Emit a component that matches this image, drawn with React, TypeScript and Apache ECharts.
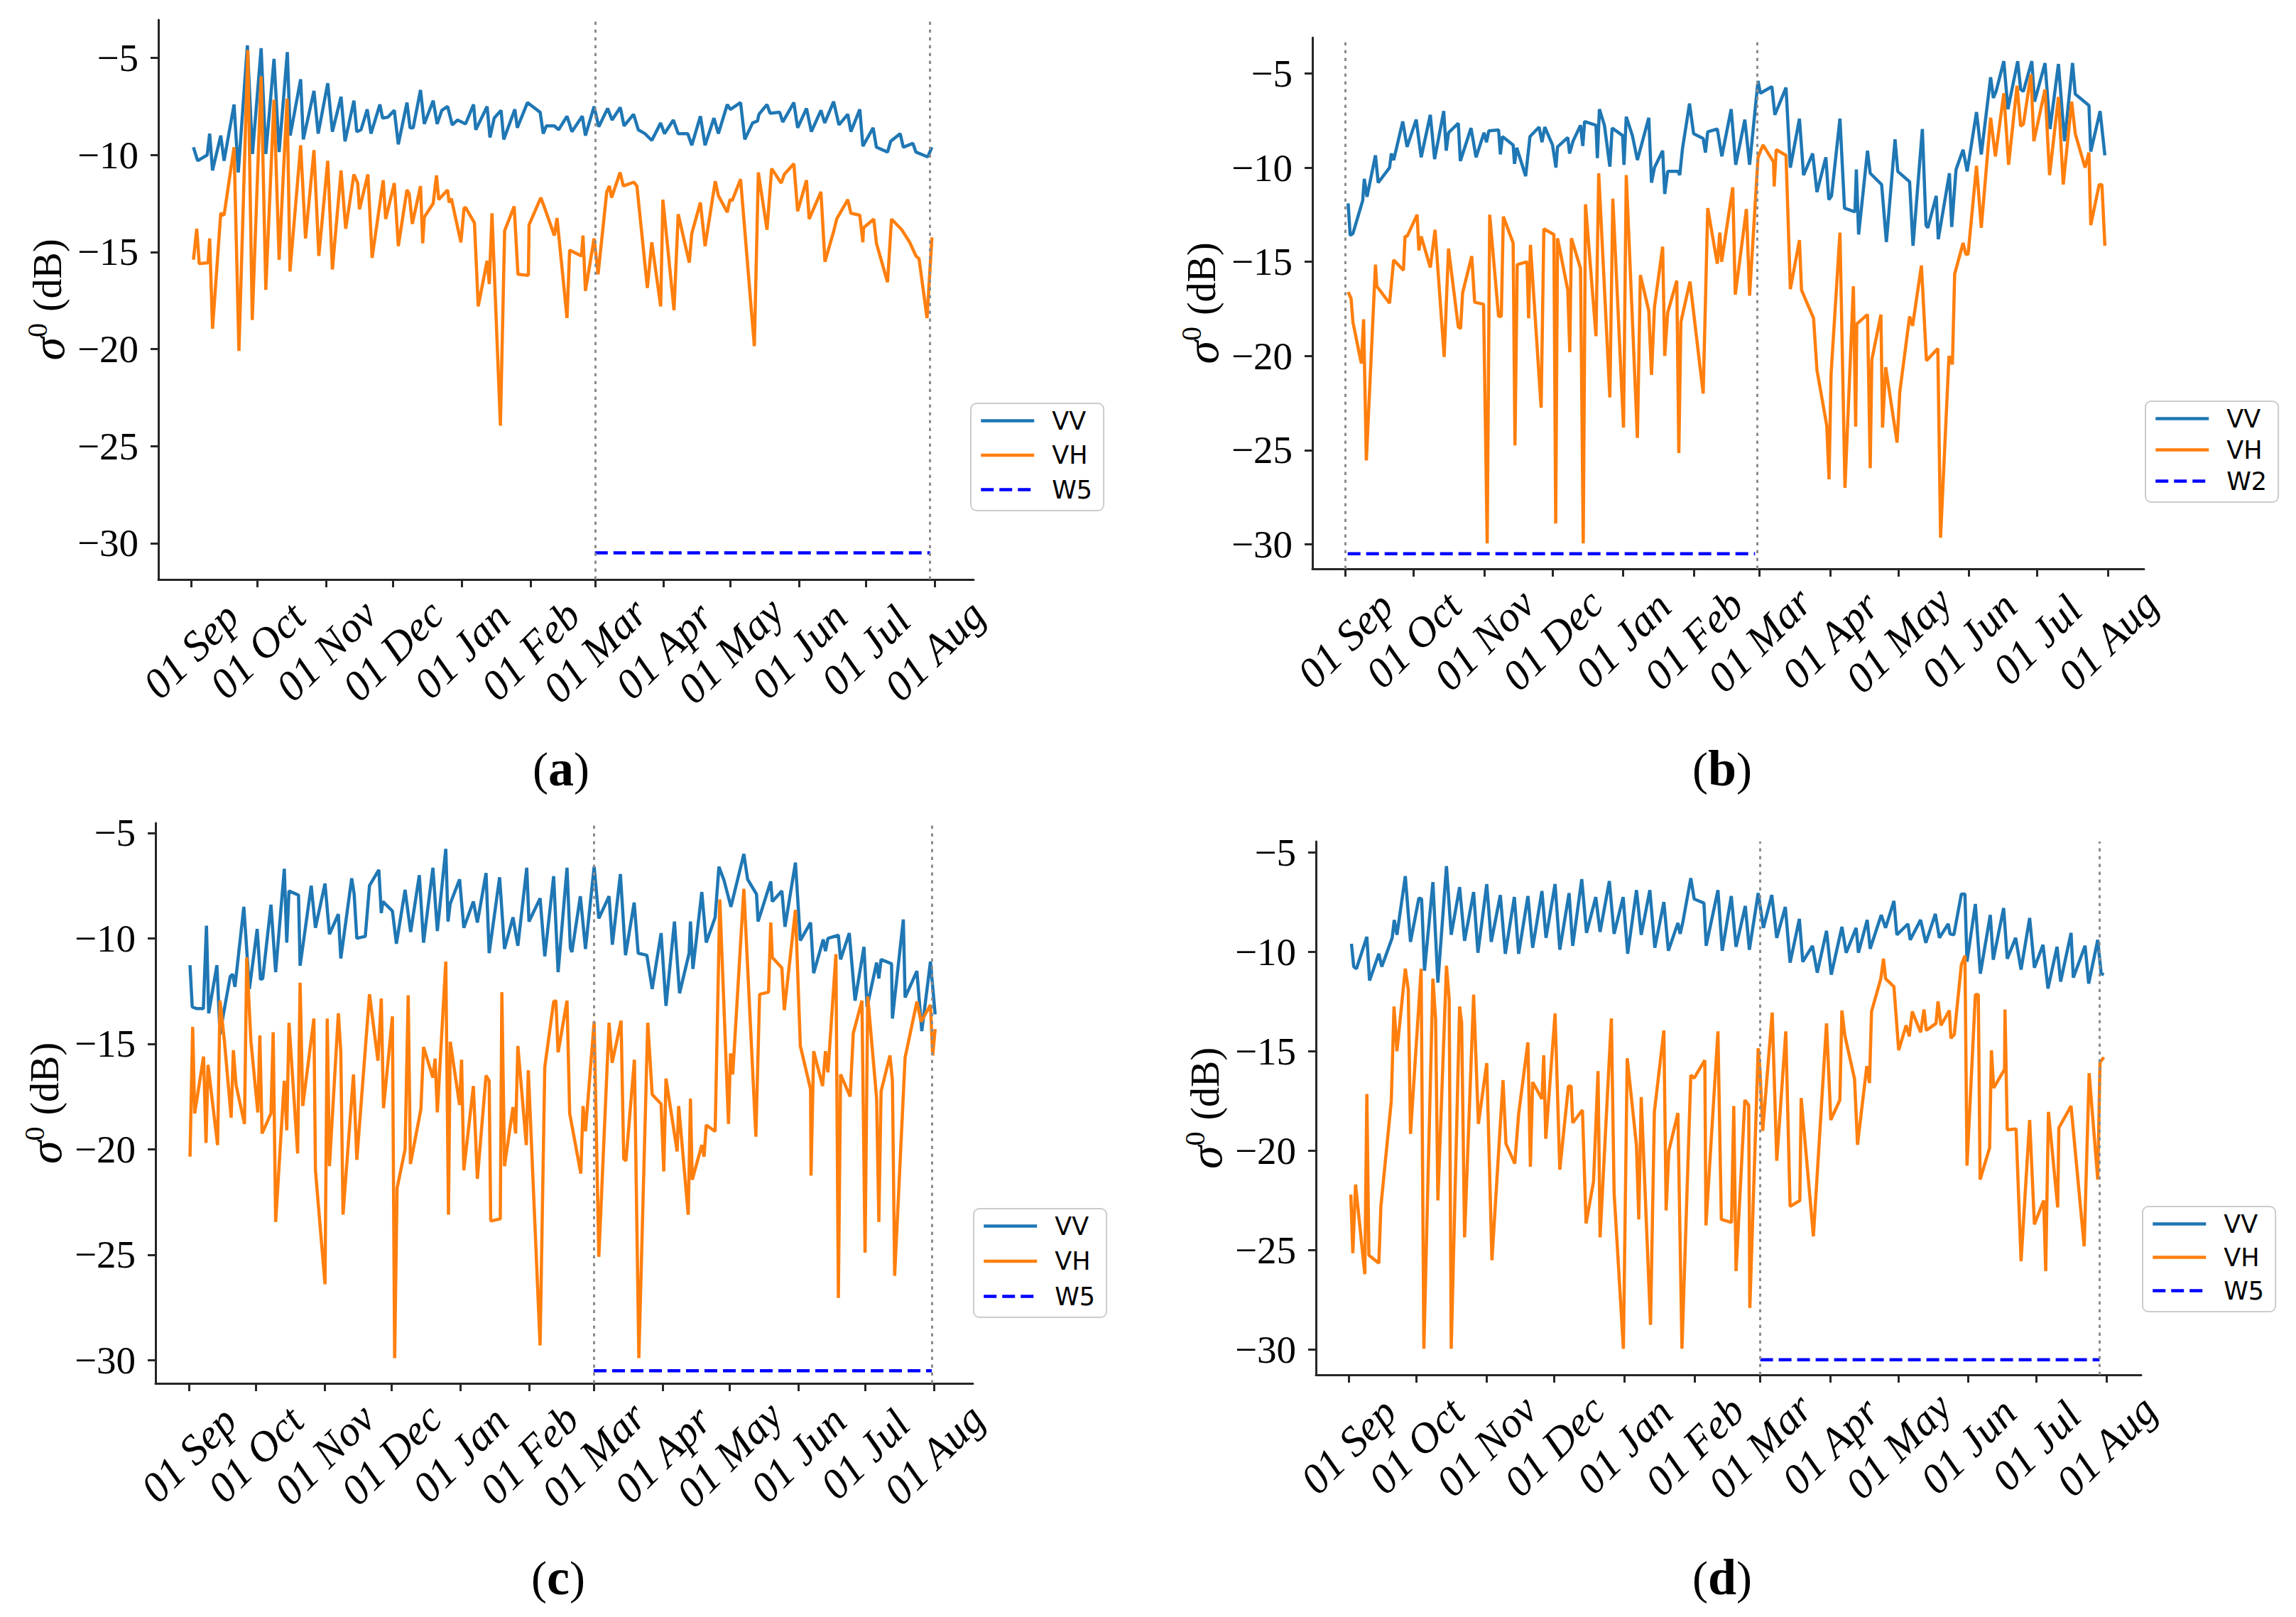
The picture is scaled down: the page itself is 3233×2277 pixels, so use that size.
import { useEffect, useRef } from 'react';
import * as echarts from 'echarts';

// [days since 01 Sep 2019, dB]
const VV_A = [
  [1.1, -9.6], [3, -10.3], [7.3, -10.0], [8.4, -8.9], [9.7, -10.8], [13.4, -9.0], [14.9, -10.3], [19.4, -7.4], [21.3, -10.9], [25.4, -4.35],
  [27.7, -9.95], [31.6, -4.5], [33.7, -9.95], [37.4, -5.05], [39.7, -9.85], [43.4, -4.7], [44.7, -9.0], [49.4, -6.1], [50.6, -9.2], [55.4, -6.7],
  [57.3, -8.9], [61.6, -6.3], [63.7, -8.8], [67.6, -7.0], [69.4, -9.3], [73.4, -7.2], [74.7, -8.8], [76.6, -8.7], [79.4, -7.65], [81.1, -8.9],
  [85.1, -7.4], [86.3, -8.1], [88.7, -8.05], [91.6, -7.7], [93.4, -9.45], [97.3, -7.3], [98.7, -8.6], [100.1, -8.6], [103.4, -6.65], [105.1, -8.4],
  [109.1, -7.2], [110.9, -8.4], [113, -7.7], [115.6, -7.5], [117.7, -8.45], [120.1, -8.2], [123.7, -8.4], [127.3, -7.4], [128.3, -8.7], [133.4, -7.5],
  [134.7, -9.1], [136.6, -8.1], [139.7, -7.7], [140.9, -9.2], [145.9, -7.65], [147, -8.6], [151.6, -7.3], [157.3, -7.8], [158.7, -8.9], [160.1, -8.5],
  [163.7, -8.5], [165.6, -8.7], [169.4, -8.0], [171.6, -8.8], [176.3, -8.0], [177.7, -9.0], [181.6, -7.5], [183.7, -8.55], [187.7, -7.6], [189.7, -8.2],
  [193.4, -7.55], [195.1, -8.5], [199.4, -7.9], [201.5, -8.7], [204.5, -8.9], [207.6, -9.25], [211.6, -8.35], [213.3, -8.9], [217.3, -8.2], [219.5, -8.9],
  [223.8, -8.9], [225.6, -9.5], [229.5, -8.0], [231.6, -9.5], [235.6, -8.1], [237.6, -8.9], [241.6, -7.4], [243, -7.65], [247.6, -7.3], [249.5, -9.2],
  [253, -8.35], [255.2, -8.25], [255.9, -7.9], [259.5, -7.4], [260.9, -7.85], [265.2, -7.8], [266.6, -8.3], [271.6, -7.3], [273.3, -8.6], [277.3, -7.6],
  [279.5, -8.8], [283.8, -7.7], [285.5, -8.35], [289.5, -7.25], [291.9, -8.45], [295.9, -7.9], [297.3, -8.8], [301.3, -7.65], [302.7, -9.55], [307.3, -8.6],
  [308.8, -9.6], [313.8, -9.85], [315.2, -9.3], [319.5, -8.9], [320.9, -9.6], [325.2, -9.4], [326.6, -9.85], [331.9, -10.1], [333.8, -9.6],
];
const VH_A = [
  [1.1, -15.4], [2.6, -13.8], [3.7, -15.6], [7.7, -15.55], [8.4, -14.3], [9.7, -18.95], [13.4, -13.0], [14.9, -13.1], [19.4, -9.6], [21.6, -20.1],
  [25.6, -4.6], [27.6, -18.5], [31.6, -5.95], [33.7, -16.95], [37.4, -7.15], [39.7, -15.4], [43.3, -7.1], [44.6, -16.0], [49.4, -9.5], [51.6, -14.3],
  [55.4, -9.75], [57.6, -15.2], [61.6, -10.3], [63.7, -15.9], [67.6, -10.8], [69.7, -13.8], [73.4, -11.0], [75.1, -11.45], [75.9, -12.8], [79.7, -11.0],
  [81.6, -15.3], [86.6, -11.3], [87.7, -13.3], [91.6, -11.45], [93.4, -14.7], [97.3, -11.8], [98.3, -12.0], [99.7, -13.55], [103.4, -11.6], [104.4, -14.55],
  [105.1, -13.2], [109.1, -12.5], [110.6, -11.05], [111.6, -12.3], [115.6, -11.8], [116.3, -12.45], [117.3, -12.25], [121.6, -14.5], [123, -12.75], [123.7, -12.7],
  [127.7, -13.5], [129.4, -17.8], [133.4, -15.45], [134.4, -16.65], [135.6, -13.0], [139.4, -23.95], [141.3, -13.9], [145.6, -12.65], [147.3, -16.15], [152, -16.2],
  [152.3, -13.6], [157.6, -12.2], [159.4, -12.75], [163.7, -14.15], [164.9, -13.25], [169.4, -18.4], [170.6, -14.9], [175.9, -15.2], [176.6, -14.15], [177.7, -17.0],
  [181.6, -14.3], [183.4, -16.15], [187.3, -11.9], [188.5, -11.6], [189.5, -12.2], [193.3, -10.9], [194.8, -11.6], [199.5, -11.4], [200.9, -11.6], [205.6, -16.85],
  [207.6, -14.5], [211.6, -17.8], [212.6, -12.3], [217.6, -18.0], [219.5, -13.05], [224.5, -15.55], [225.6, -14.05], [229.5, -12.45], [231.6, -14.7], [236.2, -11.35],
  [237.6, -12.1], [241.6, -12.95], [242.8, -12.3], [243.8, -12.35], [247.6, -11.25], [253.8, -19.85], [255.6, -10.9], [259.5, -13.85], [261.6, -10.7], [265.9, -11.45],
  [267.3, -11.0], [271.6, -10.45], [273.3, -12.9], [277.3, -11.3], [278.5, -13.3], [283.8, -11.9], [285.6, -15.5], [289.5, -13.95], [290.9, -13.3], [295.9, -12.3],
  [297.3, -13.0], [301.3, -13.1], [302.7, -14.5], [303, -13.75], [307.6, -13.3], [308.8, -14.55], [313.8, -16.55], [315.6, -13.3], [320.2, -13.85], [323.8, -14.5],
  [326.6, -15.2], [328, -15.35], [331.6, -18.4], [333.8, -14.25],
];
const VV_B = [
  [1.2, -11.9], [2.1, -13.6], [3.3, -13.5], [7.6, -11.75], [8.3, -10.6], [9.5, -11.55], [13.2, -9.35], [14.4, -10.8], [19.4, -10.0], [20.2, -9.25],
  [21.2, -9.6], [25.2, -7.55], [27.1, -8.9], [31.1, -7.45], [33.3, -9.45], [37.3, -7.2], [39.2, -9.55], [43.2, -7.0], [44.3, -9.1], [45.3, -8.15],
  [49.6, -7.65], [50.5, -9.65], [55.2, -7.9], [57.4, -9.45], [60.9, -8.15], [62, -8.65], [63, -8.05], [67.3, -8.0], [68.1, -9.3], [69, -8.35],
  [73.7, -8.8], [74.3, -9.8], [75.3, -8.95], [79.2, -10.45], [81.1, -8.35], [85.1, -7.85], [86.4, -8.65], [87.6, -7.85], [91, -8.8], [92.5, -10.0],
  [93.2, -8.9], [97.7, -8.4], [98.5, -9.25], [100, -8.6], [103.3, -7.75], [104.3, -8.85], [105.1, -7.55], [110.1, -7.75], [110.7, -9.5], [111.6, -6.9],
  [113.8, -7.75], [116.2, -9.95], [117.2, -7.9], [121.8, -8.3], [122.4, -9.85], [123.4, -7.3], [126.1, -8.3], [128.3, -9.6], [133.3, -7.35], [134.5, -10.8],
  [135.8, -10.0], [139.4, -9.1], [140.3, -11.4], [141.6, -10.2], [146.1, -10.2], [146.9, -10.4], [148.1, -9.0], [151.2, -6.6], [153, -8.2], [157.2, -8.45],
  [158.2, -9.2], [159.2, -8.1], [163.4, -7.95], [165.4, -9.4], [169.5, -6.9], [171.5, -9.85], [175.5, -7.45], [177.6, -9.85], [181.3, -5.4], [182.3, -6.05],
  [187.4, -5.7], [188.7, -7.2], [193.6, -5.75], [195.5, -10.0], [199.5, -7.4], [201.3, -10.4], [205.3, -9.25], [207.2, -11.3], [211.1, -9.45], [212.4, -11.7],
  [213.6, -11.5], [217.3, -7.4], [219.3, -12.15], [223.9, -12.35], [224.5, -10.1], [225.5, -13.55], [229.4, -9.1], [230.6, -10.3], [235.6, -10.9], [237.7, -13.95],
  [241.5, -8.5], [242.7, -10.2], [247.9, -10.75], [249.4, -14.15], [253.5, -7.95], [255.1, -13.05], [255.9, -13.2], [259.6, -11.5], [260.5, -13.8], [265.4, -10.3],
  [266.4, -13.15], [268.3, -10.1], [271.4, -9.05], [273.2, -10.2], [277.3, -7.05], [279.4, -9.3], [283.5, -5.2], [284.7, -6.3], [285.9, -5.95], [289.3, -4.35],
  [291.1, -6.9], [295.4, -4.35], [296.7, -5.85], [297.9, -5.95], [301.6, -4.35], [302.8, -6.5], [307.4, -4.45], [309.6, -7.95], [313.3, -4.5], [316, -8.6],
  [319.5, -4.45], [320.7, -6.1], [326.7, -6.7], [327.5, -9.15], [331.6, -7.0], [333.7, -9.35],
];
const VH_B = [
  [1.2, -16.6], [2.5, -16.95], [3.3, -18.2], [7, -20.4], [8, -18.05], [9.2, -25.55], [13.2, -15.15], [13.8, -16.3], [19.4, -17.2], [21.2, -14.9],
  [25.5, -15.45], [26.2, -13.65], [27.1, -13.65], [31.5, -12.5], [32.3, -14.4], [33.3, -13.65], [37.3, -15.3], [39.4, -13.3], [43.4, -20.05], [45.3, -14.3],
  [49.6, -18.45], [50.6, -18.55], [51.5, -16.65], [55.5, -14.7], [56.8, -17.15], [60.7, -17.25], [62.3, -29.95], [63.4, -12.5], [67.3, -17.9], [68.5, -17.9],
  [69.4, -12.6], [73.7, -14.0], [74.5, -24.75], [75.5, -15.15], [79.8, -15.0], [80.5, -18.0], [81.3, -14.1], [86, -22.75], [87.2, -13.25], [91.6, -13.55],
  [92.4, -28.9], [93.2, -13.75], [97.7, -16.5], [98.6, -19.8], [99.3, -13.75], [103.3, -15.35], [104.5, -29.95], [105.5, -11.95], [110.1, -18.95], [111.3, -10.3],
  [116.2, -22.2], [117.5, -11.65], [122.2, -23.8], [123.4, -10.4], [128.3, -24.35], [129.6, -15.7], [133.3, -17.6], [134.5, -21.0], [135.8, -17.4], [139.4, -14.2],
  [140.3, -20.0], [141.6, -17.7], [145.6, -16.0], [146.5, -25.15], [147.4, -18.2], [151.4, -16.05], [157.2, -22.0], [159.2, -12.15], [163.4, -15.1], [164.5, -13.45],
  [165.3, -15.0], [170.2, -11.05], [171.3, -16.75], [176.2, -12.2], [177.6, -16.8], [181.3, -9.45], [183.5, -8.8], [188.1, -9.7], [188.4, -11.0], [189.3, -9.05],
  [193.6, -9.35], [195.5, -16.45], [199.5, -13.85], [200.4, -16.5], [205.7, -18.0], [207.2, -20.75], [211.5, -23.7], [212.5, -26.55], [213.4, -20.95], [217.3, -13.45],
  [219.5, -27.0], [223.2, -16.3], [224.2, -23.75], [224.7, -18.3], [229.4, -17.8], [230.6, -25.95], [231.3, -20.2], [235.3, -17.8], [236, -23.8], [237.4, -20.6],
  [242.4, -24.6], [243.6, -21.9], [247.9, -17.9], [249.2, -18.4], [253.1, -15.2], [255.3, -20.25], [260.3, -19.6], [261.5, -29.65], [265.2, -20.0], [266.7, -20.45],
  [267.7, -15.65], [271.4, -14.0], [272.6, -14.6], [273.6, -14.6], [277.3, -9.9], [279.4, -13.2], [283.5, -7.35], [285.6, -9.4], [289.3, -6.05], [291.4, -9.85],
  [295.1, -5.65], [296.7, -7.8], [297.9, -7.7], [301.2, -5.05], [302.5, -8.6], [307.4, -5.85], [309.4, -10.4], [313.3, -6.25], [315.4, -10.9], [319.1, -6.5],
  [320.7, -8.2], [325, -10.0], [326.7, -9.2], [327.5, -13.05], [331.2, -10.9], [332.4, -10.9], [333.7, -14.15],
];
const VV_C = [
  [0.5, -11.27], [1.5, -13.25], [3.6, -13.33], [6.5, -13.33], [7.9, -9.4], [8.9, -13.55], [12.6, -11.27], [14, -14.55], [15.5, -13.6], [18.6, -11.8],
  [19.7, -11.7], [20.7, -12.3], [24.7, -8.5], [27.2, -12.4], [30.7, -9.55], [32.2, -11.95], [33.2, -11.9], [36.9, -8.4], [39, -11.6], [42.9, -6.7],
  [44, -10.2], [45, -7.75], [49.3, -7.95], [50, -11.3], [55, -7.5], [56.9, -9.5], [61.2, -7.4], [63.2, -9.8], [67.2, -8.85], [68.3, -10.95],
  [73.2, -7.15], [74.3, -7.9], [75.5, -10.0], [79.3, -9.9], [81.2, -7.5], [85.4, -6.75], [86.5, -8.8], [87.2, -8.25], [91.5, -8.7], [93.3, -10.25],
  [97.2, -7.7], [99.7, -9.7], [103.6, -7.0], [105.5, -10.2], [109.7, -6.65], [111.7, -9.65], [115.5, -5.75], [116.5, -9.2], [117.5, -8.35], [121.7, -7.2],
  [123.6, -9.5], [127.9, -8.25], [129.7, -9.25], [133.6, -6.9], [135, -10.7], [139.7, -7.1], [141.9, -10.5], [145.7, -9.0], [147.9, -10.35], [151.9, -6.65],
  [152.9, -9.2], [157.9, -8.1], [160, -10.85], [164, -7.05], [166, -11.6], [170, -6.65], [171.5, -10.45], [172.2, -10.65], [176, -8.0], [178.3, -10.5],
  [182.2, -6.6], [184.3, -9.05], [188.9, -8.0], [190.4, -10.3], [194, -6.95], [196.3, -10.8], [200.2, -8.3], [202, -10.7], [205.9, -10.8], [208.3, -12.4],
  [212.3, -9.75], [214.5, -13.2], [218.3, -9.2], [220.6, -12.6], [224.9, -10.7], [225.5, -9.2], [226.6, -11.45], [230.6, -7.8], [232.6, -10.2], [236.6, -9.0],
  [238.3, -6.6], [240.6, -7.25], [243.7, -8.5], [249.5, -6.0], [251.2, -7.2], [255.2, -7.9], [255.9, -9.2], [261.6, -7.3], [262.3, -8.25], [266.6, -7.75],
  [268, -9.45], [272.7, -6.4], [274.9, -10.1], [279.5, -9.25], [280.9, -11.65], [285.2, -10.05], [286.2, -10.6], [287.3, -10.0], [292, -9.85], [293, -11.0],
  [296.9, -9.75], [299.5, -12.95], [303.5, -10.4], [304.9, -13.25], [309.2, -11.15], [310.2, -11.9], [311.2, -11.0], [315.9, -11.2], [316.3, -13.8], [321.2, -9.1],
  [322, -12.8], [327.3, -11.55], [329.5, -14.4], [333.4, -11.1], [335.5, -13.6],
];
const VH_C = [
  [0.5, -20.35], [1.7, -14.2], [2.6, -18.3], [6.6, -15.6], [7.7, -19.7], [8.6, -16.0], [12.9, -19.8], [14, -12.95], [16, -14.9], [19, -18.5],
  [20, -15.3], [21.2, -16.95], [25, -18.8], [26, -10.9], [27.9, -14.9], [31, -18.25], [31.9, -14.6], [32.9, -19.25], [36.9, -18.3], [37.9, -14.45],
  [39, -23.45], [42.9, -16.75], [44, -19.1], [45, -14.0], [48.9, -20.2], [50, -12.1], [51.2, -17.95], [56.2, -13.8], [56.9, -21.0], [61.2, -26.4],
  [62.2, -13.8], [63.2, -20.8], [67.2, -13.55], [68.3, -15.4], [69.3, -23.1], [74, -16.45], [75.5, -20.5], [81.2, -12.65], [85, -15.8], [86.5, -12.85],
  [87.5, -18.05], [91.5, -13.7], [92.5, -29.9], [93.6, -21.85], [97.2, -20.0], [98.6, -12.7], [99.6, -20.7], [104.3, -18.1], [105.5, -15.15], [109.7, -16.6],
  [110.7, -15.7], [111.7, -18.25], [115.5, -11.1], [116.7, -23.1], [117.5, -14.9], [121.7, -17.9], [122.6, -15.75], [123.6, -21.0], [127.9, -17.0], [129.7, -21.4],
  [133.6, -16.5], [135, -16.75], [135.7, -23.4], [140, -23.3], [140.7, -12.55], [141.9, -20.8], [145.7, -18.0], [146.9, -19.25], [147.9, -15.1], [151.7, -19.8],
  [152.6, -16.25], [157.9, -29.3], [160, -16.1], [164, -13.0], [165, -12.95], [166, -15.4], [170, -12.95], [171.2, -18.3], [176.2, -21.15], [177.2, -17.95],
  [178.3, -19.15], [182.2, -13.95], [184.3, -25.1], [188.9, -14.0], [190.3, -15.9], [194.3, -13.9], [195.5, -20.45], [196.5, -20.55], [200.3, -15.75], [202.3, -29.9],
  [206.3, -14.0], [208.3, -17.4], [212.3, -17.85], [213.5, -21.05], [214.5, -16.65], [219.5, -20.1], [220.2, -17.95], [224.5, -23.1], [225.5, -17.6], [226.3, -21.45],
  [230.6, -19.8], [231.6, -20.35], [232.6, -18.85], [236.6, -19.15], [238.7, -8.15], [242.6, -18.8], [243.5, -15.45], [244.5, -16.45], [249.5, -7.65], [254.9, -19.4],
  [256.6, -12.65], [260.6, -12.55], [261.6, -9.25], [262.3, -10.9], [266.6, -11.4], [267.7, -13.4], [272.7, -8.65], [274.9, -15.1], [279.5, -17.15], [279.7, -21.25],
  [280.9, -15.35], [284.9, -17.0], [286.2, -15.35], [287.3, -16.35], [290.9, -10.75], [292, -27.05], [293, -16.45], [297.3, -17.5], [298.7, -14.5], [302.6, -12.95],
  [304, -24.9], [305.2, -12.75], [309.2, -17.6], [310.2, -23.45], [311.2, -17.25], [315.2, -15.55], [316.3, -16.75], [317.3, -26.0], [322, -15.65], [327.3, -13.0],
  [329.2, -13.95], [333.4, -13.15], [334.4, -15.55], [335.5, -14.3],
];
const VV_D = [
  [1.3, -9.6], [2.3, -10.75], [3.5, -10.85], [8.1, -9.25], [9.3, -11.45], [13.4, -10.1], [14.7, -10.75], [19.3, -9.3], [20.2, -8.4], [21.4, -9.15],
  [25.1, -6.2], [27.4, -9.5], [31.1, -7.3], [32.3, -7.35], [33.6, -10.95], [37.3, -6.5], [39.5, -11.55], [43.3, -5.7], [45.4, -9.15], [49.1, -6.75],
  [51.3, -9.45], [55.3, -7.0], [57.2, -10.05], [61.1, -6.6], [63.1, -9.5], [67.1, -7.15], [69.3, -10.1], [73.3, -7.25], [75.2, -10.1], [79.3, -7.2],
  [81.4, -9.8], [85.5, -6.95], [87.3, -9.3], [91.3, -6.6], [93.4, -9.9], [97.5, -7.05], [99.1, -9.7], [103.1, -6.35], [105.2, -9.05], [109.3, -7.25],
  [111.2, -9.0], [115.3, -6.45], [117.4, -9.1], [121.4, -7.25], [123.4, -10.1], [127.3, -6.9], [129.4, -9.15], [133.2, -6.9], [135.4, -9.8], [139.4, -7.5],
  [141.4, -9.95], [145.6, -8.55], [146.6, -9.1], [147.8, -8.5], [151.3, -6.3], [152.8, -7.35], [157.1, -7.55], [158.1, -9.7], [163.3, -6.9], [165.2, -9.95],
  [169.2, -7.2], [171.3, -9.75], [175.4, -7.7], [177.2, -9.9], [181.1, -7.05], [183.4, -8.8], [187.1, -7.15], [189.3, -9.3], [193.1, -7.75], [195.2, -10.55],
  [199.3, -8.35], [200.8, -10.5], [205.1, -9.7], [207.2, -11.05], [211.3, -8.95], [213.4, -11.15], [218.1, -8.75], [220, -10.05], [224.4, -8.8], [225.4, -10.05],
  [229.3, -8.4], [230.6, -9.85], [235.5, -8.15], [237.4, -8.8], [241.1, -7.45], [242.4, -9.15], [247.3, -8.6], [248.3, -9.4], [252.9, -8.4], [255.2, -9.55],
  [259.4, -8.1], [261.2, -9.3], [265.1, -8.6], [265.9, -9.1], [267.6, -9.15], [270.9, -7.1], [272.5, -7.1], [273.4, -10.5], [277.1, -7.6], [279.3, -11.1],
  [283.7, -8.15], [285, -10.4], [289.6, -7.8], [291.2, -10.35], [294.9, -9.3], [297.3, -10.9], [301.1, -8.3], [303.2, -10.8], [307, -9.65], [309.2, -11.85],
  [313.2, -9.75], [314.8, -11.5], [319.4, -9.05], [320.4, -11.3], [325.6, -9.7], [327.2, -11.6], [331.2, -9.4], [332.7, -11.1], [333.9, -11.15],
];
const VH_D = [
  [1, -22.2], [1.9, -25.15], [3.1, -21.7], [7.2, -26.2], [8.1, -17.15], [9, -25.25], [13.4, -25.65], [14.3, -22.8], [18.9, -17.5], [20.1, -12.75],
  [21.4, -15.0], [25.1, -10.85], [26.4, -11.9], [27.4, -19.15], [32.1, -10.85], [33.3, -29.95], [37.3, -11.35], [38.5, -13.4], [39.5, -22.5], [43.3, -10.7],
  [44.5, -12.4], [45.4, -29.95], [49.1, -12.75], [50, -13.55], [51.3, -24.35], [55.3, -12.15], [57.4, -18.65], [61.1, -15.6], [63.4, -25.5], [68.3, -16.45],
  [69.6, -19.65], [73.5, -20.65], [75.2, -18.15], [79.3, -14.55], [80.4, -20.8], [81.4, -16.55], [85.5, -17.4], [86.3, -15.2], [87.2, -19.4], [91.3, -13.1],
  [93.4, -20.95], [97.2, -16.75], [98.4, -16.75], [99.1, -18.6], [103.4, -17.95], [105, -23.65], [108.3, -21.55], [110.3, -16.0], [111.2, -24.35], [116.2, -13.35],
  [117.4, -22.1], [121.5, -29.95], [123.2, -15.35], [127.3, -19.75], [128.3, -23.45], [129.4, -17.3], [133.5, -28.75], [135.2, -18.05], [139.4, -13.95], [140.4, -23.0],
  [141.6, -20.0], [145.6, -18.1], [147.4, -29.95], [151.3, -16.2], [152.8, -16.35], [157.5, -15.45], [158, -23.75], [163.3, -14.0], [164.8, -23.45], [169.3, -23.6],
  [170.3, -17.75], [171.3, -26.05], [175.2, -17.45], [176.9, -17.7], [177.4, -27.9], [181.1, -14.85], [181.9, -15.95], [183.1, -19.0], [187.3, -13.05], [189.3, -20.5],
  [193.3, -14.0], [195.2, -22.8], [199.5, -22.5], [200.1, -17.35], [205.5, -24.3], [211.3, -13.6], [213.2, -18.45], [217.2, -17.45], [218.1, -12.95], [219.4, -14.2],
  [223.7, -16.4], [225, -19.7], [229.1, -15.75], [230.3, -16.6], [231.2, -13.0], [235.3, -11.35], [236.5, -10.35], [237.4, -11.35], [241.1, -11.75], [243.2, -14.95],
  [246.5, -13.7], [247.9, -14.25], [249.2, -13.0], [252.9, -14.05], [254.4, -12.9], [255.4, -13.95], [259.7, -13.6], [260.6, -12.5], [261.9, -13.7], [265.6, -12.95],
  [266.3, -14.35], [267.8, -14.15], [270.9, -10.65], [272.5, -10.2], [273.4, -20.75], [277.1, -12.15], [278.4, -12.15], [279.2, -21.45], [283.4, -19.85], [284.2, -14.95],
  [285.2, -16.85], [290, -15.9], [290.2, -12.9], [291.2, -18.95], [295.1, -18.9], [297.3, -25.55], [301.1, -18.45], [303.2, -23.7], [307.3, -22.5], [308.2, -26.05],
  [309.4, -18.05], [313.5, -22.85], [314, -18.85], [319.4, -17.75], [325.2, -24.8], [327.4, -16.1], [331.2, -21.45], [332.2, -15.55], [333.9, -15.3],
];

const VV = [VV_A, VV_B, VV_C, VV_D];
const VH = [VH_A, VH_B, VH_C, VH_D];
const WINDOW_NAMES = ['W5', 'W2', 'W5', 'W5'];
// window span and vertical markers, in days since 01 Sep 2019
const WINDOW_SPANS = [[182, 333], [1, 180], [182, 334], [182, 332]];
const MARKER_DAYS = [[182, 333], [0, 181], [182, 334], [182, 332]];
const WINDOW_LEVEL = -30.5;
const CAPTIONS = ['a', 'b', 'c', 'd'];
const Y_TICKS = [-30, -25, -20, -15, -10, -5];
const MONTH_TICKS = [
  '2019-09-01', '2019-10-01', '2019-11-01', '2019-12-01', '2020-01-01', '2020-02-01',
  '2020-03-01', '2020-04-01', '2020-05-01', '2020-06-01', '2020-07-01', '2020-08-01',
];
const MONTH_NAMES = ['Jan', 'Feb', 'Mar', 'Apr', 'May', 'Jun', 'Jul', 'Aug', 'Sep', 'Oct', 'Nov', 'Dec'];

// layout (page pixels)
const LAYOUT = [
  { left: 223, top: 28, width: 1148, height: 788, yMin: -31.87, yMax: -3.04, xMin: -14.7, xMax: 352.6, legLeft: 1367, legTop: 568, legGap: 13.5, capX: 790, capY: 1082 },
  { left: 1848, top: 53, width: 1171, height: 748, yMin: -31.3, yMax: -3.1, xMin: -14.5, xMax: 350.9, legLeft: 3021, legTop: 565, legGap: 9, capX: 2425, capY: 1082 },
  { left: 219, top: 1159, width: 1151, height: 789, yMin: -31.1, yMax: -4.53, xMin: -15, xMax: 352.5, legLeft: 1371, legTop: 1702, legGap: 14.5, capX: 786, capY: 2221 },
  { left: 1853, top: 1185, width: 1162, height: 751, yMin: -31.26, yMax: -4.46, xMin: -14.4, xMax: 350.4, legLeft: 3017, legTop: 1699, legGap: 12, capX: 2425, capY: 2221 },
];

const W = 3233;
const H = 2277;
const DAY = 86400000;
const T0 = Date.UTC(2019, 8, 1);
const t = (d: number) => T0 + d * DAY;

const SERIF = 'Liberation Serif';
const AXIS = { color: '#262626', width: 3 };
const LINE_W = 4.5;

function buildOption(): echarts.EChartsOption {
  const monthTicks = MONTH_TICKS.map((s) => Date.parse(s + 'T00:00:00Z'));
  const series: any[] = [];
  LAYOUT.forEach((_, i) => {
    series.push({
      name: 'VV', type: 'line', xAxisIndex: i, yAxisIndex: i, z: 2,
      data: VV[i].map(([d, v]) => [t(d), v]),
      symbol: 'none', emphasis: { disabled: true },
      lineStyle: { color: '#1f77b4', width: LINE_W }, itemStyle: { color: '#1f77b4' },
    });
    series.push({
      name: 'VH', type: 'line', xAxisIndex: i, yAxisIndex: i, z: 3,
      data: VH[i].map(([d, v]) => [t(d), v]),
      symbol: 'none', emphasis: { disabled: true },
      lineStyle: { color: '#ff7f0e', width: LINE_W }, itemStyle: { color: '#ff7f0e' },
    });
    series.push({
      name: WINDOW_NAMES[i], type: 'line', xAxisIndex: i, yAxisIndex: i, z: 4,
      data: WINDOW_SPANS[i].map((d) => [t(d), WINDOW_LEVEL]),
      symbol: 'none', emphasis: { disabled: true },
      lineStyle: { color: '#0000ff', width: LINE_W, type: [18, 8] }, itemStyle: { color: '#0000ff' },
      markLine: {
        silent: true, symbol: ['none', 'none'], label: { show: false },
        lineStyle: { color: '#8c8c8c', width: 3, type: [4.5, 6.5] },
        data: MARKER_DAYS[i].map((d) => ({ xAxis: t(d) })),
      },
    });
  });

  return {
    animation: false,
    backgroundColor: '#ffffff',
    grid: LAYOUT.map((l) => ({ left: l.left, top: l.top, width: l.width, height: l.height })),
    xAxis: LAYOUT.map((l, i) => ({
      type: 'value', gridIndex: i, min: t(l.xMin), max: t(l.xMax),
      axisLine: { show: true, onZero: false, lineStyle: AXIS },
      axisTick: { show: true, length: 11, lineStyle: AXIS, customValues: monthTicks },
      axisLabel: {
        customValues: monthTicks,
        formatter: (v: number) => {
          const d = new Date(v);
          return String(d.getUTCDate()).padStart(2, '0') + ' ' + MONTH_NAMES[d.getUTCMonth()];
        },
        rotate: 45, align: 'center', verticalAlign: 'middle', margin: 100,
        fontFamily: SERIF, fontStyle: 'italic', fontSize: 60, color: '#000',
      },
      splitLine: { show: false },
    })) as any,
    yAxis: LAYOUT.map((l, i) => ({
      type: 'value', gridIndex: i, min: l.yMin, max: l.yMax,
      axisLine: { show: true, onZero: false, lineStyle: AXIS },
      axisTick: { show: true, length: 11, lineStyle: AXIS, customValues: Y_TICKS },
      axisLabel: {
        customValues: Y_TICKS,
        formatter: (v: number) => '\u2212' + Math.abs(v),
        fontFamily: SERIF, fontSize: 55, color: '#000', margin: 28,
      },
      splitLine: { show: false },
      name: '{s|σ}{u|0} (dB)', nameLocation: 'middle', nameGap: 121, nameRotate: 90,
      nameTextStyle: {
        fontFamily: SERIF, fontSize: 56, color: '#000',
        rich: {
          s: { fontFamily: SERIF, fontStyle: 'italic', fontSize: 66, color: '#000' },
          u: { fontFamily: SERIF, fontSize: 40, color: '#000', padding: [0, 2, 30, 0] },
        },
      },
    })) as any,
    legend: LAYOUT.map((l, i) => ({
      orient: 'vertical', left: l.legLeft, top: l.legTop,
      data: ['VV', 'VH', WINDOW_NAMES[i]],
      itemWidth: 75, itemHeight: 14, itemGap: l.legGap,
      padding: [7, 16, 12, 12],
      backgroundColor: '#ffffff', borderColor: '#cccccc', borderWidth: 2, borderRadius: 8,
      lineStyle: { width: LINE_W },
      itemStyle: { opacity: 0 },
      selectedMode: false,
      textStyle: { fontFamily: 'DejaVu Sans', fontSize: 35, color: '#000', padding: [0, 0, 0, 20] },
    })) as any,
    graphic: LAYOUT.map((l, i) => ({
      type: 'text', x: l.capX, y: l.capY,
      style: {
        text: '{p|(}{b|' + CAPTIONS[i] + '}{p|)}',
        align: 'center', verticalAlign: 'middle',
        rich: {
          p: { fontFamily: SERIF, fontSize: 66, fill: '#000' },
          b: { fontFamily: SERIF, fontSize: 72, fontWeight: 'bold', fill: '#000' },
        },
      },
    })) as any,
    series,
  };
}

export default function App() {
  const chartRef = useRef<HTMLDivElement>(null);

  useEffect(() => {
    if (!chartRef.current) return;
    const chart = echarts.init(chartRef.current, null, { renderer: 'svg', width: W, height: H });
    chart.setOption(buildOption());
    return () => {
      chart.dispose();
    };
  }, []);

  return (
    <div
      ref={chartRef}
      style={{ position: 'absolute', left: 0, top: 0, width: W, height: H, background: '#fff' }}
    />
  );
}
